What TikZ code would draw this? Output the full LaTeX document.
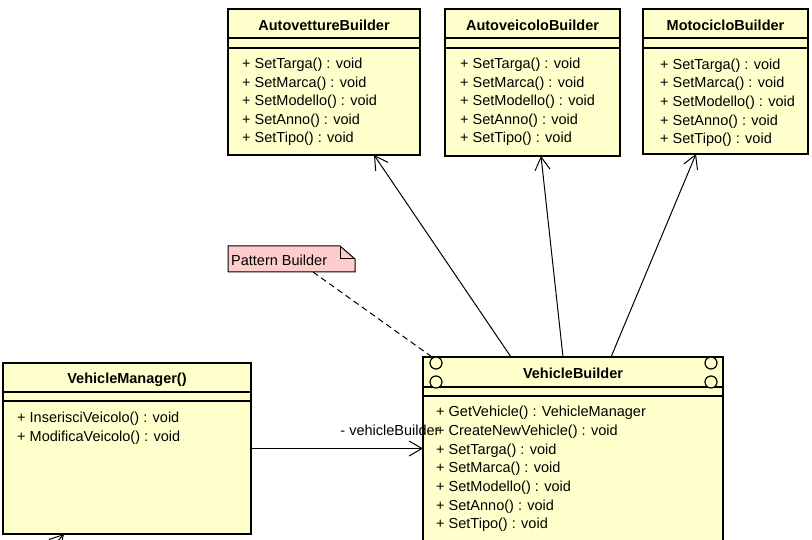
\documentclass[tikz,border=0pt]{standalone}
\usepackage{fontspec}
\setmainfont{Liberation Sans}
\usetikzlibrary{arrows.meta,calc}
\definecolor{clsfill}{RGB}{255,255,204}
\definecolor{notefill}{RGB}{255,204,204}
\tikzset{
  cls/.style={draw=black, line width=2bp, fill=clsfill, rectangle, inner sep=0pt, outer sep=0pt, anchor=north west},
  sepline/.style={draw=black, line width=1.2bp},
  ttl/.style={font=\fontsize{14.5bp}{17bp}\selectfont\bfseries, inner sep=0pt, anchor=center, yshift=-0.5bp},
  meth/.style={font=\fontsize{14.5bp}{17bp}\selectfont, inner sep=0pt, anchor=west, yshift=-1.5bp},
  assoc/.style={draw=black, line width=1bp, -{Straight Barb[length=13bp,width=15bp,line width=1bp]}},
  ring/.style={circle, draw=black, line width=1.2bp, fill=clsfill, minimum size=12bp, inner sep=0pt},
}
\begin{document}
\begin{tikzpicture}[x=1bp,y=-1bp]
\path[use as bounding box] (0,0) rectangle (812,540);
\clip (0,0) rectangle (812,540);
\fill[white] (0,0) rectangle (812,540);

% --- AutovettureBuilder
\node[cls, minimum width=192bp, minimum height=146bp] (avb) at (228,9) {};
\draw[sepline] ([yshift=-29bp]avb.north west) -- ([yshift=-29bp]avb.north east);
\draw[sepline] ([yshift=-39bp]avb.north west) -- ([yshift=-39bp]avb.north east);
\node[ttl] (avb-t) at ([yshift=-16bp]avb.north) {AutovettureBuilder};
\node[meth] (avb-1) at (242,63) {+ SetTarga() : void};
\node[meth] (avb-2) at (242,82) {+ SetMarca() : void};
\node[meth] (avb-3) at (242,100) {+ SetModello() : void};
\node[meth] (avb-4) at (242,119) {+ SetAnno() : void};
\node[meth] (avb-5) at (242,137) {+ SetTipo() : void};

% --- AutoveicoloBuilder
\node[cls, minimum width=175bp, minimum height=147bp] (aib) at (445,9) {};
\draw[sepline] ([yshift=-29bp]aib.north west) -- ([yshift=-29bp]aib.north east);
\draw[sepline] ([yshift=-39bp]aib.north west) -- ([yshift=-39bp]aib.north east);
\node[ttl] (aib-t) at ([yshift=-16bp]aib.north) {AutoveicoloBuilder};
\node[meth] (aib-1) at (460,63) {+ SetTarga() : void};
\node[meth] (aib-2) at (460,82) {+ SetMarca() : void};
\node[meth] (aib-3) at (460,100) {+ SetModello() : void};
\node[meth] (aib-4) at (460,119) {+ SetAnno() : void};
\node[meth] (aib-5) at (460,137) {+ SetTipo() : void};

% --- MotocicloBuilder
\node[cls, minimum width=165bp, minimum height=145bp] (mb) at (643,9) {};
\draw[sepline] ([yshift=-29bp]mb.north west) -- ([yshift=-29bp]mb.north east);
\draw[sepline] ([yshift=-39bp]mb.north west) -- ([yshift=-39bp]mb.north east);
\node[ttl] (mb-t) at ([yshift=-16bp]mb.north) {MotocicloBuilder};
\node[meth] (mb-1) at (660,64) {+ SetTarga() : void};
\node[meth] (mb-2) at (660,82) {+ SetMarca() : void};
\node[meth] (mb-3) at (660,101) {+ SetModello() : void};
\node[meth] (mb-4) at (660,120) {+ SetAnno() : void};
\node[meth] (mb-5) at (660,138) {+ SetTipo() : void};

% --- VehicleManager()
\node[cls, minimum width=248bp, minimum height=171bp] (vm) at (3,363) {};
\draw[sepline] ([yshift=-29bp]vm.north west) -- ([yshift=-29bp]vm.north east);
\draw[sepline] ([yshift=-38bp]vm.north west) -- ([yshift=-38bp]vm.north east);
\node[ttl] (vm-t) at ([yshift=-16bp]vm.north) {VehicleManager()};
\node[meth] (vm-1) at (17,417) {+ InserisciVeicolo() : void};
\node[meth] (vm-2) at (17,436) {+ ModificaVeicolo() : void};

% --- VehicleBuilder
\node[cls, minimum width=300bp, minimum height=220bp] (vb) at (423,357) {};
\draw[sepline] ([yshift=-30bp]vb.north west) -- ([yshift=-30bp]vb.north east);
\draw[sepline] ([yshift=-39bp]vb.north west) -- ([yshift=-39bp]vb.north east);
\node[ring] (vb-r1) at (436,363) {};
\node[ring] (vb-r2) at (436,382) {};
\node[ring] (vb-r3) at (711,363) {};
\node[ring] (vb-r4) at (711,382) {};
\node[ttl] (vb-t) at ([yshift=-16bp]vb.north) {VehicleBuilder};
\node[meth] (vb-1) at (436,411) {+ GetVehicle() : VehicleManager};
\node[meth] (vb-2) at (436,430) {+ CreateNewVehicle() : void};
\node[meth] (vb-3) at (436,449) {+ SetTarga() : void};
\node[meth] (vb-4) at (436,467) {+ SetMarca() : void};
\node[meth] (vb-5) at (436,486) {+ SetModello() : void};
\node[meth] (vb-6) at (436,505) {+ SetAnno() : void};
\node[meth] (vb-7) at (436,523) {+ SetTipo() : void};

% --- Note
\node[rectangle, minimum width=127bp, minimum height=26bp, inner sep=0pt, outer sep=0pt, anchor=north west] (note) at (228,246) {};
\draw[line width=1bp, fill=notefill]
  (note.north west) -- ([xshift=-15bp]note.north east) -- ([yshift=-13bp]note.north east)
  -- (note.south east) -- (note.south west) -- cycle;
\draw[line width=1bp] ([xshift=-15bp]note.north east) -- ([xshift=-15bp,yshift=-13bp]note.north east) -- ([yshift=-13bp]note.north east);
\node[meth] (note-t) at (231,259) {Pattern Builder};

% --- connectors
\draw[line width=1bp, dash pattern=on 6bp off 4bp] ([xshift=85bp]note.south west) -- ([xshift=9bp]vb.north west);
\draw[assoc] ([xshift=88bp]vb.north west) -- ([xshift=146bp]avb.south west);
\draw[assoc] ([xshift=140bp]vb.north west) -- ([xshift=96bp]aib.south west);
\draw[assoc] ([xshift=188bp]vb.north west) -- ([xshift=53bp]mb.south west);
\draw[assoc] (vm.east) -- (vm.east -| vb.west);
\node[meth, anchor=center] (lbl) at (390,429) {- vehicleBuilder};
\coordinate (ext) at (40,561);
\draw[assoc] (ext) -- ([xshift=61bp]vm.south west);
\end{tikzpicture}
\end{document}
